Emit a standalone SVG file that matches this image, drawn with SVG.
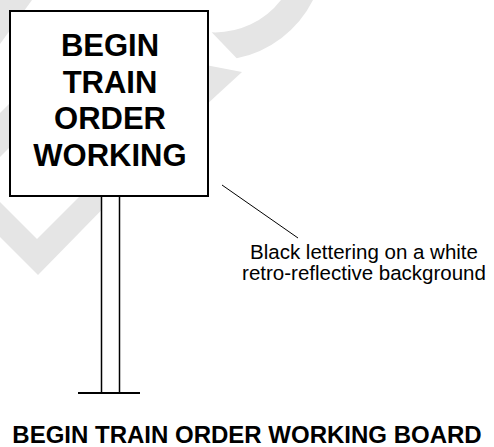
<svg xmlns="http://www.w3.org/2000/svg" width="494" height="447" viewBox="0 0 494 447">
  <style>
    .wm { fill: #e5e5e5; stroke: none; }
    .board { fill: #ffffff; stroke: #000000; stroke-width: 2; }
    .post { fill: #ffffff; stroke: #000000; stroke-width: 1.5; }
    .line { stroke: #000000; fill: none; }
    .sign { font-family: "Liberation Sans", Arial, sans-serif; font-weight: bold; font-size: 31px; text-anchor: middle; fill: #000000; }
    .note { font-family: "Liberation Sans", Arial, sans-serif; font-size: 20.5px; text-anchor: middle; fill: #000000; }
    .title { font-family: "Liberation Sans", Arial, sans-serif; font-weight: bold; font-size: 24px; text-anchor: middle; fill: #000000; }
  </style>
  <rect x="0" y="0" width="494" height="447" fill="#ffffff"/>
  <g id="watermark">
    <polygon class="wm" points="0,0 32,0 0,44"/>
    <polygon class="wm" points="0,113 50,63 50,107 0,157"/>
    <polygon class="wm" points="0,202 37,239 90,186 125,186 38,275 0,237"/>
    <path class="wm" d="M 313,0 A 110 110 0 0 1 236.7,58.3 L 211.7,32.3 A 83 83 0 0 0 281,0 Z"/>
    <polygon class="wm" points="190,62 242,72 218,94 190,120"/>
  </g>
  <g id="post">
    <rect class="post" x="101.5" y="196" width="18" height="197"/>
    <line class="line" x1="78" y1="393" x2="140" y2="393" stroke-width="2"/>
  </g>
  <g id="board">
    <rect class="board" x="10" y="11" width="198" height="185"/>
    <text class="sign" x="110" y="56">BEGIN</text>
    <text class="sign" x="110" y="92.5">TRAIN</text>
    <text class="sign" x="110" y="129">ORDER</text>
    <text class="sign" x="110" y="165.5">WORKING</text>
  </g>
  <g id="connectors">
    <line class="line" x1="222" y1="185" x2="298" y2="238" stroke-width="1"/>
  </g>
  <g id="note">
    <text class="note" x="364" y="259">Black lettering on a white</text>
    <text class="note" x="364" y="280">retro-reflective background</text>
  </g>
  <g id="title">
    <text class="title" x="247" y="443">BEGIN TRAIN ORDER WORKING BOARD</text>
  </g>
</svg>
